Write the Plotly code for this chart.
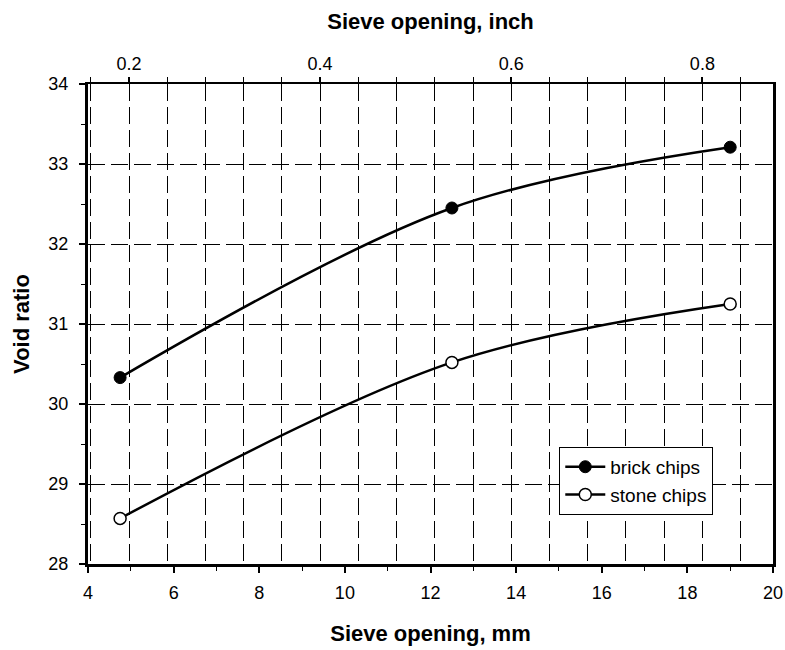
import plotly.graph_objects as go

# Data
sieve_mm = [4.75, 12.5, 19.0]
brick_void = [30.33, 32.45, 33.21]
stone_void = [28.57, 30.52, 31.25]
inch_ticks = [0.2, 0.4, 0.6, 0.8]

FONT = "Liberation Sans, Arial, sans-serif"
DASH = "17px,6px"

fig = go.Figure()

fig.add_trace(go.Scatter(
    x=sieve_mm, y=brick_void, name="brick chips", mode="lines+markers",
    line=dict(color="black", width=2.5, shape="spline", smoothing=1),
    marker=dict(symbol="circle", size=12, color="black", line=dict(color="black", width=1)),
))
fig.add_trace(go.Scatter(
    x=sieve_mm, y=stone_void, name="stone chips", mode="lines+markers",
    line=dict(color="black", width=2.5, shape="spline", smoothing=1),
    marker=dict(symbol="circle", size=12, color="white", line=dict(color="black", width=1.5)),
))
# invisible trace to activate top (inch) axis
fig.add_trace(go.Scatter(
    x=inch_ticks, y=[None] * len(inch_ticks), xaxis="x2", mode="markers",
    showlegend=False, hoverinfo="skip", marker=dict(opacity=0),
))

fig.update_layout(
    width=785, height=650,
    margin=dict(l=88, r=12, t=84, b=86),
    paper_bgcolor="white", plot_bgcolor="white",
    font=dict(family=FONT, size=18, color="black"),
    showlegend=True,
    legend=dict(
        x=0.688, y=0.244, xanchor="left", yanchor="top",
        bgcolor="white", bordercolor="black", borderwidth=1,
        font=dict(size=19, family=FONT),
        itemwidth=40, tracegroupgap=0,
    ),
    xaxis=dict(
        range=[4, 20], dtick=2, tick0=4, automargin=False,
        showline=True, linecolor="black", linewidth=3,
        ticks="outside", ticklen=6, tickwidth=2, tickcolor="black",
        ticklabelstandoff=4,
        showgrid=False, zeroline=False,
        minor=dict(dtick=1, ticks="outside", ticklen=4, tickwidth=1, tickcolor="black", showgrid=False),
        title=dict(text="<b>Sieve opening, mm</b>", font=dict(size=22, family=FONT), standoff=25),
    ),
    xaxis2=dict(
        overlaying="x", side="top", anchor="y", automargin=False,
        range=[0.1571, 0.8739], dtick=0.2, tick0=0.2,
        showline=True, linecolor="black", linewidth=2,
        ticks="outside", ticklen=5, tickwidth=2, tickcolor="black",
        ticklabelstandoff=0,
        showgrid=True, gridcolor="black", gridwidth=1, griddash=DASH,
        zeroline=False,
        minor=dict(dtick=0.04, tick0=0.2, ticks="outside", ticklen=5, tickwidth=1, tickcolor="black",
                   showgrid=True, gridcolor="black", gridwidth=1, griddash=DASH),
        title=dict(text="<b>Sieve opening, inch</b>", font=dict(size=22, family=FONT), standoff=18),
    ),
    yaxis=dict(
        range=[28, 34], dtick=1, tick0=28, automargin=False,
        showline=True, linecolor="black", linewidth=3, mirror=True,
        ticks="outside", ticklen=6, tickwidth=2, tickcolor="black",
        ticklabelstandoff=7,
        showgrid=True, gridcolor="black", gridwidth=1, griddash=DASH,
        zeroline=False,
        minor=dict(dtick=0.5, ticks="outside", ticklen=4, tickwidth=1, tickcolor="black", showgrid=False),
        title=dict(text="<b>Void ratio</b>", font=dict(size=22, family=FONT), standoff=13),
    ),
)

fig.write_html(
    "out.html",
    config={"displayModeBar": False},
    post_script="document.body.style.margin='0';document.body.style.overflow='hidden';",
)
